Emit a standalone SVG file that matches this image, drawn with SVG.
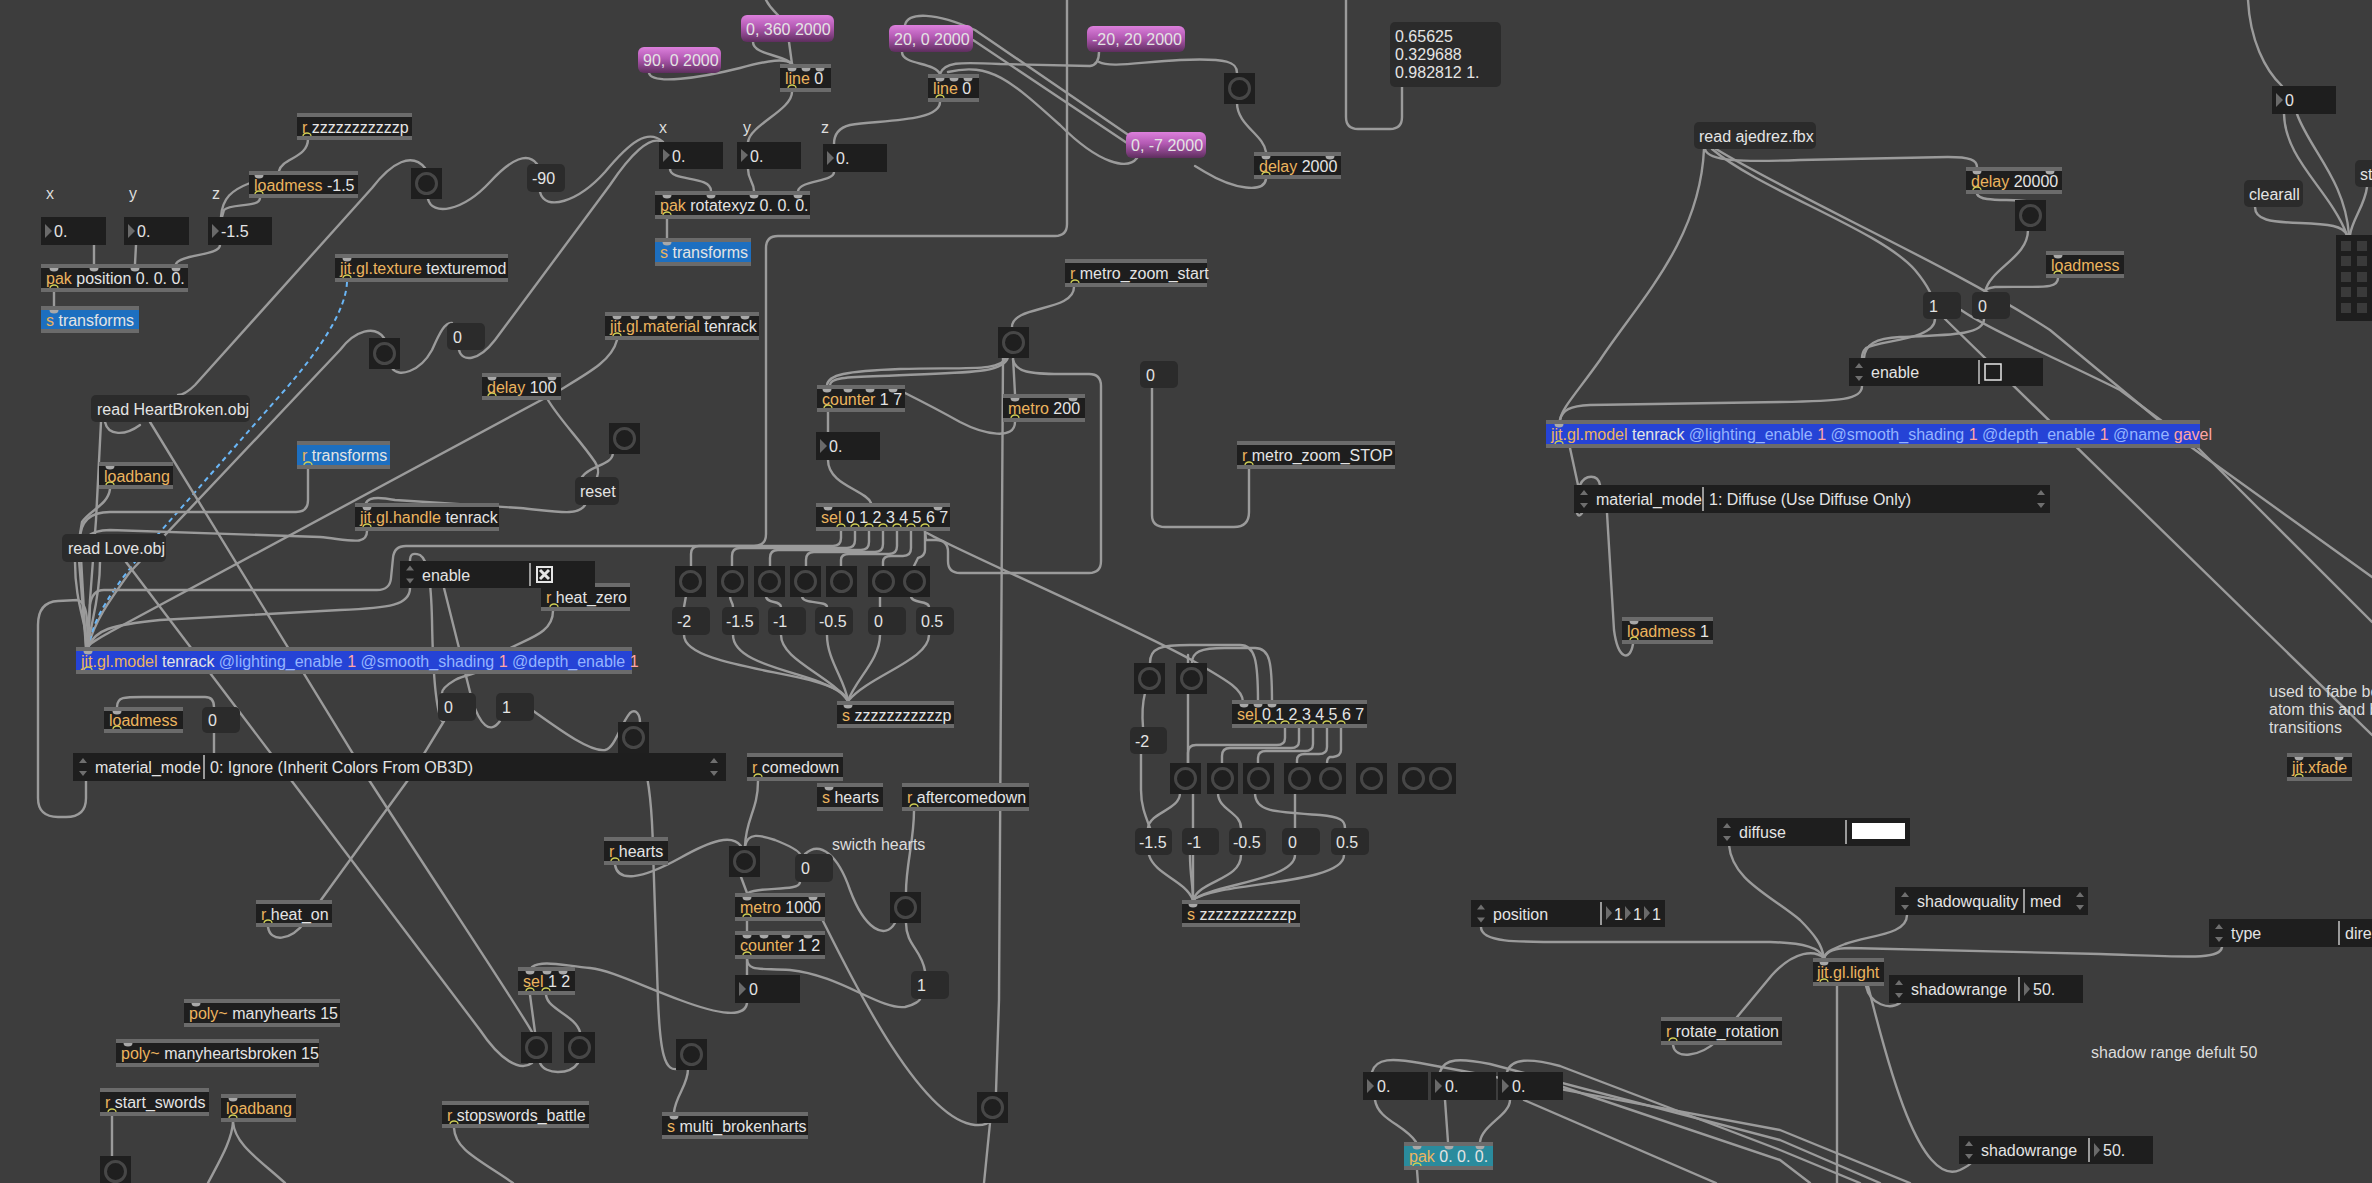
<svg xmlns="http://www.w3.org/2000/svg" width="2372" height="1183" viewBox="0 0 2372 1183">
<defs>
<style>
text{font-family:"Liberation Sans",Arial,sans-serif;font-size:16px;fill:#e4e4e4}
.k{fill:#ecb45e}
.at{fill:#95b4ff}
.av{fill:#ffa5a5}
.ob{fill:#6b6b6b}
.oi{fill:#1e1e1e}
.blu{fill:#1d6fc0}
.mdl{fill:#2543d6}
.tea{fill:#2a8b9d}
.msg{fill:#2b2b2b}
.pm{fill:url(#pg)}
.nb{fill:#1e1e1e}
.tri{fill:#6a6a6a}
.bgr{fill:#1f1f1f}
.bc{fill:none;stroke:#474747;stroke-width:3}
.au{fill:#1e1e1e}
.dv{stroke:#c4c4c4;stroke-width:1.5}
.ar{fill:#6f6f6f}
.pi{fill:#a9a9a9}
.po{fill:none;stroke:#cfcf55;stroke-width:1.3}
.w{fill:none;stroke:#9b9b9b;stroke-width:2.4;stroke-linecap:round;stroke-linejoin:round}
.wd{fill:none;stroke:#6ab6f6;stroke-width:2;stroke-dasharray:5 4}
.cm{fill:#dcdcdc}
</style>
<linearGradient id="pg" x1="0" y1="0" x2="0" y2="1">
<stop offset="0" stop-color="#dc80dc"/><stop offset="0.45" stop-color="#b259b2"/><stop offset="1" stop-color="#5e2e5e"/>
</linearGradient>
<path id="pin" d="M-4.5,0 A4.5,3.5 0 0 0 4.5,0 Z"/>
<path id="pout" d="M-4,0 A4,3 0 0 1 4,0"/>
<path id="aud" d="M0,-9 L4,-4 L-4,-4 Z M0,9 L4,4 L-4,4 Z"/>
</defs>
<rect x="0" y="0" width="2372" height="1183" fill="#3d3d3d"/>

<g id="connectors">
<path class="w" d="M308,139 C308,158 282,158 279,171"/>
<path class="w" d="M260,198 C260,208 230,203 224,210 L222,217"/>
<path class="w" d="M250,183 C232,190 222,198 221,217"/>
<path class="w" d="M94,245 L94,264"/>
<path class="w" d="M136,245 L135,264"/>
<path class="w" d="M220,245 C220,256 180,254 176,264"/>
<path class="w" d="M54,292 L54,306"/>
<path class="w" d="M425,168 C412,152 392,162 372,188 L195,385 C188,392 182,395 178,395"/>
<path class="w" d="M88,647 C95,620 110,600 130,572 L340,350 C355,330 375,325 384,338"/>
<path class="wd" d="M347,282 C346,310 320,350 283,392 L160,532 C110,590 92,620 89,647"/>
<path class="w" d="M428,199 C432,216 462,212 490,182 C512,158 528,152 537,164"/>
<path class="w" d="M540,192 C545,212 578,202 605,172 C630,142 648,128 663,142"/>
<path class="w" d="M392,368 C398,378 420,372 432,350 C440,332 445,322 452,323"/>
<path class="w" d="M459,350 C462,362 478,362 495,340 L610,185 C630,155 650,135 662,142"/>
<path class="w" d="M617,340 C612,360 590,372 560,390 L110,632 C96,640 90,643 88,647"/>
<path class="w" d="M548,400 C560,420 580,440 595,462 C600,470 598,474 597,477"/>
<path class="w" d="M613,453 C612,466 590,465 582,477"/>
<path class="w" d="M1067,0 L1067,224 Q1067,236 1055,236 L778,236 Q766,236 766,248 L766,534 Q766,546 754,546 L406,546 Q394,546 393,558 L391,578 Q390,590 377,590 L104,590 Q92,590 90,605 L88,647"/>
<path class="w" d="M410,588 C410,605 390,608 340,610 L160,620 C110,625 95,630 88,647"/>
<path class="w" d="M101,422 L96,520 L90,600 L88,647"/>
<path class="w" d="M105,422 C108,436 125,436 140,425"/>
<path class="w" d="M110,489 C108,505 90,510 82,522 L80,534"/>
<path class="w" d="M308,469 L308,500 Q308,512 296,512 L110,512 Q80,512 80,540 L86,647"/>
<path class="w" d="M367,531 C367,546 350,540 320,537 L110,530 Q78,530 79,560 L86,647"/>
<path class="w" d="M585,505 C578,516 560,512 520,508 L395,500 C375,496 368,498 366,503"/>
<path class="w" d="M75,562 C75,600 85,620 88,647"/>
<path class="w" d="M100,562 C100,600 90,625 88,647"/>
<path class="w" d="M86,781 L86,798 Q86,817 66,817 L58,817 Q38,817 38,798 L38,625 Q38,602 58,601 L78,600 Q86,603 87,620 L88,647"/>
<path class="w" d="M117,707 C117,696 125,697 150,697 L205,697 Q214,697 214,707"/>
<path class="w" d="M214,733 L214,753"/>
<path class="w" d="M442,721 C436,710 433,680 432,620 C431,580 428,560 420,555 C412,552 410,555 410,561"/>
<path class="w" d="M500,721 C490,735 480,725 472,700 L444,588"/>
<path class="w" d="M553,611 C553,640 510,640 495,660 C485,675 470,672 455,680 C445,686 442,690 442,693"/>
<path class="w" d="M268,927 C270,942 290,942 305,922 L408,780 L444,721"/>
<path class="w" d="M532,710 C560,730 590,752 605,750 C615,748 620,725 630,713 C636,708 640,715 640,722"/>
<path class="w" d="M640,752 C648,770 652,800 653,850 L658,1000 C660,1050 664,1075 680,1068"/>
<path class="w" d="M688,1069 C688,1085 676,1095 674,1112"/>
<path class="w" d="M615,865 C618,882 640,880 680,858 C712,840 732,834 741,846"/>
<path class="w" d="M758,781 C758,810 746,818 745,846"/>
<path class="w" d="M741,877 L747,893"/>
<path class="w" d="M800,882 C800,892 760,886 748,893"/>
<path class="w" d="M745,846 C748,832 760,835 775,840 C790,846 798,850 800,854"/>
<path class="w" d="M895,923 C885,940 865,930 850,890 C838,855 820,840 805,854"/>
<path class="w" d="M914,811 C914,840 906,865 906,892"/>
<path class="w" d="M906,923 C906,945 922,950 925,971"/>
<path class="w" d="M747,921 L747,931"/>
<path class="w" d="M747,959 L747,975"/>
<path class="w" d="M747,959 C748,972 760,968 790,970 C840,975 880,1010 905,1007 C915,1005 920,1000 920,999"/>
<path class="w" d="M747,1003 C745,1018 720,1015 680,1000 C640,985 610,970 590,968 C560,965 542,960 532,967"/>
<path class="w" d="M823,921 C850,975 920,1120 975,1125 C985,1126 990,1122 992,1120"/>
<path class="w" d="M1003,357 L999,1000 L996,1092"/>
<path class="w" d="M990,1123 L984,1183"/>
<path class="w" d="M530,995 L535,1032"/>
<path class="w" d="M546,995 C548,1010 575,1015 580,1032"/>
<path class="w" d="M540,1063 C545,1075 570,1075 578,1063"/>
<path class="w" d="M532,1032 C520,1010 440,890 369,780 L150,422"/>
<path class="w" d="M126,562 L291,780 L480,1030 C500,1060 520,1072 532,1063"/>
<path class="w" d="M112,1116 L112,1156"/>
<path class="w" d="M233,1122 C232,1140 220,1160 208,1183"/>
<path class="w" d="M233,1122 C235,1145 260,1160 285,1183"/>
<path class="w" d="M454,1128 C455,1150 480,1160 513,1183"/>
<path class="w" d="M753,42 C753,55 785,55 792,64"/>
<path class="w" d="M789,42 L792,64"/>
<path class="w" d="M649,73 C652,85 700,78 740,68 C770,60 785,58 792,64"/>
<path class="w" d="M766,0 C770,8 775,12 778,15"/>
<path class="w" d="M792,92 C792,110 750,125 748,142"/>
<path class="w" d="M940,102 C940,122 880,120 850,125 C838,128 834,135 834,144"/>
<path class="w" d="M670,169 C670,182 711,175 711,191"/>
<path class="w" d="M748,169 C748,180 754,182 754,191"/>
<path class="w" d="M834,172 C834,182 800,180 798,191"/>
<path class="w" d="M667,219 L667,238"/>
<path class="w" d="M902,52 C902,65 935,62 940,74"/>
<path class="w" d="M940,74 C944,62 958,62 1000,64 L1090,66 C1097,65 1099,60 1099,52"/>
<path class="w" d="M1099,62 C1110,68 1140,62 1180,60 C1228,58 1237,62 1237,73"/>
<path class="w" d="M948,72 C990,62 1010,80 1060,125 C1100,165 1128,170 1137,158"/>
<path class="w" d="M905,25 C908,12 935,12 975,30 L1127,134"/>
<path class="w" d="M973,40 L1130,145"/>
<path class="w" d="M1266,179 C1264,193 1235,190 1205,172 L1195,166"/>
<path class="w" d="M1237,103 C1237,125 1264,135 1266,152"/>
<path class="w" d="M1346,0 L1346,117 Q1346,129 1358,129 L1390,129 Q1402,129 1402,117 L1402,87"/>
<path class="w" d="M1074,287 C1074,312 1012,305 1012,327"/>
<path class="w" d="M1006,357 C1002,372 965,367 900,369 C845,371 828,375 827,385"/>
<path class="w" d="M1008,357 C1004,375 960,372 880,376 C845,377 830,378 830,385"/>
<path class="w" d="M1013,357 L1015,394"/>
<path class="w" d="M1013,360 C1016,372 1030,374 1060,374 L1089,374 Q1101,374 1101,386 L1101,561 Q1101,573 1089,573 L960,573 Q948,573 948,561 L948,552 Q948,540 936,540 L926,540 L925,531"/>
<path class="w" d="M1015,422 C1015,440 985,435 960,422 C935,408 915,398 905,393"/>
<path class="w" d="M828,412 L828,432"/>
<path class="w" d="M828,460 C828,485 866,490 871,503"/>
<path class="w" d="M841,531 L841,538 Q841,546 833,546 L699,546 Q691,546 691,554 L691,566"/>
<path class="w" d="M855,531 L855,540 Q855,548 847,548 L740,548 Q732,548 732,556 L732,566"/>
<path class="w" d="M869,531 L869,542 Q869,550 861,550 L778,550 Q770,550 770,558 L770,566"/>
<path class="w" d="M883,531 L883,544 Q883,552 875,552 L814,552 Q806,552 806,560 L806,566"/>
<path class="w" d="M897,531 L897,546 Q897,554 889,554 L849,554 Q841,554 841,560 L841,566"/>
<path class="w" d="M911,531 L911,548 Q911,556 903,556 L891,556 Q883,556 883,562 L883,566"/>
<path class="w" d="M925,531 L925,550 Q925,556 918,558 L914,566"/>
<path class="w" d="M686,596 L684,607"/>
<path class="w" d="M730,596 C730,602 733,602 733,607"/>
<path class="w" d="M766,596 C766,604 781,600 781,607"/>
<path class="w" d="M802,596 C802,605 827,600 827,607"/>
<path class="w" d="M880,596 L880,607"/>
<path class="w" d="M911,596 C911,604 929,600 929,607"/>
<path class="w" d="M684,635 C684,660 760,668 810,680 C835,687 845,692 848,701"/>
<path class="w" d="M733,635 C733,662 790,670 820,682 C838,690 846,695 848,701"/>
<path class="w" d="M781,635 C781,660 830,675 848,701"/>
<path class="w" d="M827,635 C827,660 845,680 848,701"/>
<path class="w" d="M880,635 C880,660 855,680 848,701"/>
<path class="w" d="M929,635 C929,660 870,675 848,701"/>
<path class="w" d="M927,533 C960,552 1140,630 1195,662 C1230,682 1243,690 1243,702"/>
<path class="w" d="M1249,469 L1249,512 Q1249,527 1234,527 L1165,527 Q1152,527 1152,515 L1152,388"/>
<path class="w" d="M1150,663 C1150,648 1160,645 1190,645 L1240,645 C1255,645 1258,660 1258,702"/>
<path class="w" d="M1192,663 C1192,652 1200,648 1225,648 L1255,648 C1270,648 1272,662 1272,702"/>
<path class="w" d="M1188,763 L1188,655"/>
<path class="w" d="M1145,693 C1142,705 1142,715 1143,727"/>
<path class="w" d="M1141,754 L1141,790 C1141,805 1145,815 1150,828"/>
<path class="w" d="M1285,728 L1285,738 Q1285,745 1277,745 L1196,745 Q1188,745 1188,753 L1188,763"/>
<path class="w" d="M1299,728 L1299,741 Q1299,748 1291,748 L1230,748 Q1222,748 1222,756 L1222,763"/>
<path class="w" d="M1313,728 L1313,744 Q1313,751 1305,751 L1266,751 Q1258,751 1258,758 L1258,763"/>
<path class="w" d="M1327,728 L1327,747 Q1327,754 1319,754 L1305,754 Q1297,754 1297,760 L1297,763"/>
<path class="w" d="M1341,728 L1341,750 Q1341,756 1333,757 L1330,757 Q1327,758 1327,763"/>
<path class="w" d="M1180,793 C1180,810 1150,812 1148,828"/>
<path class="w" d="M1193,793 L1193,900"/>
<path class="w" d="M1218,793 C1218,810 1241,812 1241,828"/>
<path class="w" d="M1255,793 C1255,812 1275,812 1320,815 C1340,817 1345,820 1345,828"/>
<path class="w" d="M1295,793 L1295,828"/>
<path class="w" d="M1149,855 C1155,875 1185,880 1193,900"/>
<path class="w" d="M1190,855 C1190,875 1193,885 1193,900"/>
<path class="w" d="M1241,855 C1241,880 1200,880 1193,900"/>
<path class="w" d="M1295,855 C1295,880 1210,885 1193,900"/>
<path class="w" d="M1344,855 C1344,885 1215,882 1193,900"/>
<path class="w" d="M1704,149 C1700,240 1640,300 1600,360 C1575,395 1562,408 1560,420"/>
<path class="w" d="M1705,149 C1708,162 1745,162 1800,160 L1948,157 C1970,157 1977,160 1977,167"/>
<path class="w" d="M1712,149 C1760,190 1880,230 1915,270 C1925,282 1928,288 1930,292"/>
<path class="w" d="M1716,149 C1800,200 1950,265 2050,330 L2191,447 L2372,577"/>
<path class="w" d="M1961,310 C1990,330 2060,360 2120,390 L2197,447 L2372,622"/>
<path class="w" d="M1945,319 L2372,735"/>
<path class="w" d="M1935,319 C1935,340 1880,340 1866,348 C1862,352 1862,355 1862,358"/>
<path class="w" d="M1984,319 C1984,335 1950,335 1900,337 C1875,338 1865,345 1864,358"/>
<path class="w" d="M2028,230 C2028,258 1990,268 1985,292"/>
<path class="w" d="M1977,194 C1980,203 2015,198 2030,202"/>
<path class="w" d="M2058,278 C2058,290 2040,286 1995,287 C1988,288 1985,290 1985,292"/>
<path class="w" d="M1862,386 C1862,400 1840,401 1780,402 L1590,405 C1570,406 1562,410 1560,420"/>
<path class="w" d="M1570,448 L1578,485"/>
<path class="w" d="M1633,644 C1630,662 1618,660 1614,630 L1607,513"/>
<path class="w" d="M1582,513 C1576,522 1574,505 1580,485 C1585,474 1598,474 1600,485"/>
<path class="w" d="M2248,0 C2250,40 2265,70 2282,86"/>
<path class="w" d="M2284,114 C2285,160 2330,190 2347,235"/>
<path class="w" d="M2297,114 C2310,150 2345,180 2349,235"/>
<path class="w" d="M2255,207 C2255,220 2270,222 2300,223 C2330,224 2343,226 2347,235"/>
<path class="w" d="M2367,187 C2365,205 2352,220 2350,235"/>
<path class="w" d="M1481,927 C1481,944 1520,942 1600,942 L1770,942 C1805,943 1820,948 1824,958"/>
<path class="w" d="M1729,845 C1732,880 1770,895 1800,920 C1815,935 1822,945 1824,958"/>
<path class="w" d="M1907,915 C1907,935 1870,935 1845,944 C1830,950 1826,952 1824,958"/>
<path class="w" d="M2222,947 C2220,960 2190,957 2100,954 L1850,948 C1832,948 1826,952 1824,958"/>
<path class="w" d="M1673,1045 C1675,1060 1700,1057 1718,1040 L1772,975 C1795,950 1815,950 1824,958"/>
<path class="w" d="M1866,986 C1870,1005 1890,1010 1900,1003"/>
<path class="w" d="M1868,986 C1880,1030 1915,1190 1960,1170 C1966,1167 1970,1165 1971,1163"/>
<path class="w" d="M1837,986 L1837,1183"/>
<path class="w" d="M1372,1072 C1376,1058 1392,1058 1420,1063 L1780,1130 L1910,1183"/>
<path class="w" d="M1440,1072 C1444,1058 1460,1058 1490,1064 L1780,1140 L1880,1183"/>
<path class="w" d="M1507,1072 C1511,1058 1530,1058 1560,1066 L1780,1150 L1860,1183"/>
<path class="w" d="M1563,1087 L1780,1160 L1810,1183"/>
<path class="w" d="M1524,1100 L1716,1183"/>
<path class="w" d="M1375,1100 C1378,1120 1405,1125 1416,1142"/>
<path class="w" d="M1445,1100 L1448,1142"/>
<path class="w" d="M1510,1100 C1510,1115 1482,1125 1480,1142"/>
<path class="w" d="M1417,1170 L1418,1183"/>
</g>

<!-- object boxes -->
<g id="r-zzz-1"><rect class="ob" x="297" y="113" width="115" height="27"/><rect class="oi" x="297" y="117" width="115" height="19"/><use href="#pout" class="po" x="307" y="136"/><text x="302" y="133"><tspan class="k">r</tspan> zzzzzzzzzzzp</text></g>
<g id="loadmess-m15"><rect class="ob" x="249" y="171" width="109" height="27"/><rect class="oi" x="249" y="175" width="109" height="19"/><use href="#pin" class="pi" x="259" y="175"/><use href="#pout" class="po" x="259" y="194"/><text x="254" y="191"><tspan class="k">loadmess</tspan> -1.5</text></g>
<g id="pak-position"><rect class="ob" x="41" y="264" width="147" height="28"/><rect class="oi" x="41" y="268" width="147" height="20"/><use href="#pin" class="pi" x="54" y="268"/><use href="#pin" class="pi" x="94" y="268"/><use href="#pin" class="pi" x="135" y="268"/><use href="#pin" class="pi" x="176" y="268"/><use href="#pout" class="po" x="54" y="288"/><text x="46" y="284"><tspan class="k">pak</tspan> position 0. 0. 0.</text></g>
<g id="s-transforms-1"><rect class="ob" x="41" y="306" width="98" height="27"/><rect class="blu" x="41" y="310" width="98" height="19"/><use href="#pin" class="pi" x="54" y="310"/><text x="46" y="326"><tspan class="k">s</tspan> transforms</text></g>
<g id="jit-gl-texture"><rect class="ob" x="335" y="254" width="173" height="28"/><rect class="oi" x="335" y="258" width="173" height="20"/><use href="#pin" class="pi" x="347" y="258"/><use href="#pout" class="po" x="347" y="278"/><text x="340" y="274"><tspan class="k">jit.gl.texture</tspan> texturemod</text></g>
<g id="delay-100"><rect class="ob" x="482" y="373" width="79" height="27"/><rect class="oi" x="482" y="377" width="79" height="19"/><use href="#pin" class="pi" x="492" y="377"/><use href="#pin" class="pi" x="552" y="377"/><use href="#pout" class="po" x="492" y="396"/><text x="487" y="393"><tspan class="k">delay</tspan> 100</text></g>
<g id="line-0-a"><rect class="ob" x="780" y="64" width="51" height="28"/><rect class="oi" x="780" y="68" width="51" height="20"/><use href="#pin" class="pi" x="792" y="68"/><use href="#pin" class="pi" x="806" y="68"/><use href="#pin" class="pi" x="820" y="68"/><use href="#pout" class="po" x="792" y="88"/><text x="785" y="84"><tspan class="k">line</tspan> 0</text></g>
<g id="line-0-b"><rect class="ob" x="928" y="74" width="51" height="28"/><rect class="oi" x="928" y="78" width="51" height="20"/><use href="#pin" class="pi" x="940" y="78"/><use href="#pin" class="pi" x="954" y="78"/><use href="#pin" class="pi" x="968" y="78"/><use href="#pout" class="po" x="940" y="98"/><text x="933" y="94"><tspan class="k">line</tspan> 0</text></g>
<g id="pak-rotatexyz"><rect class="ob" x="655" y="191" width="155" height="28"/><rect class="oi" x="655" y="195" width="155" height="20"/><use href="#pin" class="pi" x="667" y="195"/><use href="#pin" class="pi" x="711" y="195"/><use href="#pin" class="pi" x="754" y="195"/><use href="#pin" class="pi" x="798" y="195"/><use href="#pout" class="po" x="667" y="215"/><text x="660" y="211"><tspan class="k">pak</tspan> rotatexyz 0. 0. 0.</text></g>
<g id="s-transforms-2"><rect class="ob" x="655" y="238" width="96" height="28"/><rect class="blu" x="655" y="242" width="96" height="20"/><use href="#pin" class="pi" x="667" y="242"/><text x="660" y="258"><tspan class="k">s</tspan> transforms</text></g>
<g id="jit-gl-material"><rect class="ob" x="605" y="312" width="154" height="28"/><rect class="oi" x="605" y="316" width="154" height="20"/><use href="#pin" class="pi" x="617" y="316"/><use href="#pin" class="pi" x="635" y="316"/><use href="#pin" class="pi" x="653" y="316"/><use href="#pin" class="pi" x="671" y="316"/><use href="#pin" class="pi" x="689" y="316"/><use href="#pin" class="pi" x="707" y="316"/><use href="#pin" class="pi" x="725" y="316"/><use href="#pin" class="pi" x="745" y="316"/><use href="#pout" class="po" x="617" y="336"/><text x="610" y="332"><tspan class="k">jit.gl.material</tspan> tenrack</text></g>
<g id="r-metro-zoom-start"><rect class="ob" x="1065" y="259" width="142" height="28"/><rect class="oi" x="1065" y="263" width="142" height="20"/><use href="#pout" class="po" x="1075" y="283"/><text x="1070" y="279"><tspan class="k">r</tspan> metro_zoom_start</text></g>
<g id="counter-1-7"><rect class="ob" x="817" y="385" width="88" height="27"/><rect class="oi" x="817" y="389" width="88" height="19"/><use href="#pin" class="pi" x="827" y="389"/><use href="#pin" class="pi" x="848" y="389"/><use href="#pin" class="pi" x="870" y="389"/><use href="#pin" class="pi" x="893" y="389"/><use href="#pout" class="po" x="828" y="408"/><text x="822" y="405"><tspan class="k">counter</tspan> 1 7</text></g>
<g id="metro-200"><rect class="ob" x="1003" y="394" width="82" height="28"/><rect class="oi" x="1003" y="398" width="82" height="20"/><use href="#pin" class="pi" x="1015" y="398"/><use href="#pin" class="pi" x="1073" y="398"/><use href="#pout" class="po" x="1015" y="418"/><text x="1008" y="414"><tspan class="k">metro</tspan> 200</text></g>
<g id="sel-1"><rect class="ob" x="816" y="503" width="134" height="28"/><rect class="oi" x="816" y="507" width="134" height="20"/><use href="#pin" class="pi" x="828" y="507"/><use href="#pin" class="pi" x="938" y="507"/><use href="#pout" class="po" x="841" y="527"/><use href="#pout" class="po" x="855" y="527"/><use href="#pout" class="po" x="869" y="527"/><use href="#pout" class="po" x="883" y="527"/><use href="#pout" class="po" x="897" y="527"/><use href="#pout" class="po" x="911" y="527"/><use href="#pout" class="po" x="925" y="527"/><text x="821" y="523"><tspan class="k">sel</tspan> 0 1 2 3 4 5 6 7</text></g>
<g id="s-zzz-1"><rect class="ob" x="837" y="701" width="117" height="27"/><rect class="oi" x="837" y="705" width="117" height="19"/><use href="#pin" class="pi" x="848" y="705"/><text x="842" y="721"><tspan class="k">s</tspan> zzzzzzzzzzzp</text></g>
<g id="r-comedown"><rect class="ob" x="747" y="753" width="96" height="28"/><rect class="oi" x="747" y="757" width="96" height="20"/><use href="#pout" class="po" x="758" y="777"/><text x="752" y="773"><tspan class="k">r</tspan> comedown</text></g>
<g id="s-hearts"><rect class="ob" x="817" y="783" width="66" height="28"/><rect class="oi" x="817" y="787" width="66" height="20"/><use href="#pin" class="pi" x="829" y="787"/><text x="822" y="803"><tspan class="k">s</tspan> hearts</text></g>
<g id="r-aftercomedown"><rect class="ob" x="902" y="783" width="127" height="28"/><rect class="oi" x="902" y="787" width="127" height="20"/><use href="#pout" class="po" x="914" y="807"/><text x="907" y="803"><tspan class="k">r</tspan> aftercomedown</text></g>
<g id="delay-2000"><rect class="ob" x="1254" y="152" width="87" height="27"/><rect class="oi" x="1254" y="156" width="87" height="19"/><use href="#pin" class="pi" x="1266" y="156"/><use href="#pin" class="pi" x="1330" y="156"/><use href="#pout" class="po" x="1266" y="175"/><text x="1259" y="172"><tspan class="k">delay</tspan> 2000</text></g>
<g id="r-metro-zoom-stop"><rect class="ob" x="1237" y="441" width="158" height="28"/><rect class="oi" x="1237" y="445" width="158" height="20"/><use href="#pout" class="po" x="1249" y="465"/><text x="1242" y="461"><tspan class="k">r</tspan> metro_zoom_STOP</text></g>
<g id="sel-2"><rect class="ob" x="1232" y="700" width="135" height="28"/><rect class="oi" x="1232" y="704" width="135" height="20"/><use href="#pin" class="pi" x="1244" y="704"/><use href="#pin" class="pi" x="1258" y="704"/><use href="#pin" class="pi" x="1272" y="704"/><use href="#pout" class="po" x="1258" y="724"/><use href="#pout" class="po" x="1272" y="724"/><use href="#pout" class="po" x="1285" y="724"/><use href="#pout" class="po" x="1299" y="724"/><use href="#pout" class="po" x="1313" y="724"/><use href="#pout" class="po" x="1327" y="724"/><use href="#pout" class="po" x="1341" y="724"/><text x="1237" y="720"><tspan class="k">sel</tspan> 0 1 2 3 4 5 6 7</text></g>
<g id="s-zzz-2"><rect class="ob" x="1182" y="900" width="118" height="27"/><rect class="oi" x="1182" y="904" width="118" height="19"/><use href="#pin" class="pi" x="1193" y="904"/><text x="1187" y="920"><tspan class="k">s</tspan> zzzzzzzzzzzp</text></g>
<g id="jit-gl-model-gavel"><rect class="ob" x="1546" y="420" width="654" height="28"/><rect class="mdl" x="1546" y="424" width="654" height="20"/><use href="#pin" class="pi" x="1559" y="424"/><use href="#pout" class="po" x="1559" y="444"/><text x="1551" y="440"><tspan class="k">jit.gl.model</tspan> tenrack <tspan class="at">@lighting_enable</tspan> <tspan class="av">1</tspan> <tspan class="at">@smooth_shading</tspan> <tspan class="av">1</tspan> <tspan class="at">@depth_enable</tspan> <tspan class="av">1</tspan> <tspan class="at">@name</tspan> <tspan class="av">gavel</tspan></text></g>
<g id="loadmess-1"><rect class="ob" x="1622" y="617" width="91" height="27"/><rect class="oi" x="1622" y="621" width="91" height="19"/><use href="#pin" class="pi" x="1634" y="621"/><use href="#pout" class="po" x="1634" y="640"/><text x="1627" y="637"><tspan class="k">loadmess</tspan> 1</text></g>
<g id="delay-20000"><rect class="ob" x="1966" y="167" width="96" height="27"/><rect class="oi" x="1966" y="171" width="96" height="19"/><use href="#pin" class="pi" x="1977" y="171"/><use href="#pin" class="pi" x="2050" y="171"/><use href="#pout" class="po" x="1977" y="190"/><text x="1971" y="187"><tspan class="k">delay</tspan> 20000</text></g>
<g id="loadmess-r"><rect class="ob" x="2046" y="251" width="78" height="27"/><rect class="oi" x="2046" y="255" width="78" height="19"/><use href="#pin" class="pi" x="2058" y="255"/><use href="#pout" class="po" x="2058" y="274"/><text x="2051" y="271" class="k">loadmess</text></g>
<g id="jit-xfade"><rect class="ob" x="2287" y="753" width="65" height="28"/><rect class="oi" x="2287" y="757" width="65" height="20"/><use href="#pin" class="pi" x="2299" y="757"/><use href="#pin" class="pi" x="2339" y="757"/><use href="#pout" class="po" x="2299" y="777"/><text x="2292" y="773" class="k">jit.xfade</text></g>
<g id="jit-gl-light"><rect class="ob" x="1813" y="958" width="71" height="28"/><rect class="oi" x="1813" y="962" width="71" height="20"/><use href="#pin" class="pi" x="1824" y="962"/><use href="#pout" class="po" x="1824" y="982"/><text x="1817" y="978" class="k">jit.gl.light</text></g>
<g id="r-rotate-rotation"><rect class="ob" x="1661" y="1017" width="121" height="28"/><rect class="oi" x="1661" y="1021" width="121" height="20"/><use href="#pout" class="po" x="1673" y="1041"/><text x="1666" y="1037"><tspan class="k">r</tspan> rotate_rotation</text></g>
<g id="pak-000"><rect class="ob" x="1404" y="1142" width="89" height="28"/><rect class="tea" x="1404" y="1146" width="89" height="20"/><use href="#pin" class="pi" x="1417" y="1146"/><use href="#pin" class="pi" x="1449" y="1146"/><use href="#pin" class="pi" x="1480" y="1146"/><use href="#pout" class="po" x="1417" y="1166"/><text x="1409" y="1162"><tspan class="k">pak</tspan> 0. 0. 0.</text></g>
<g id="r-transforms"><rect class="ob" x="297" y="441" width="93" height="28"/><rect class="blu" x="297" y="445" width="93" height="20"/><use href="#pout" class="po" x="308" y="465"/><text x="302" y="461"><tspan class="k">r</tspan> transforms</text></g>
<g id="loadbang-1"><rect class="ob" x="99" y="462" width="74" height="27"/><rect class="oi" x="99" y="466" width="74" height="19"/><use href="#pin" class="pi" x="110" y="466"/><use href="#pout" class="po" x="110" y="485"/><text x="104" y="482" class="k">loadbang</text></g>
<g id="jit-gl-handle"><rect class="ob" x="355" y="503" width="144" height="28"/><rect class="oi" x="355" y="507" width="144" height="20"/><use href="#pin" class="pi" x="367" y="507"/><use href="#pout" class="po" x="367" y="527"/><text x="360" y="523"><tspan class="k">jit.gl.handle</tspan> tenrack</text></g>
<g id="r-heat-zero"><rect class="ob" x="541" y="583" width="89" height="28"/><rect class="oi" x="541" y="587" width="89" height="20"/><use href="#pout" class="po" x="554" y="607"/><text x="546" y="603"><tspan class="k">r</tspan> heat_zero</text></g>
<g id="jit-gl-model-tenrack"><rect class="ob" x="76" y="647" width="556" height="27"/><rect class="mdl" x="76" y="651" width="556" height="19"/><use href="#pin" class="pi" x="88" y="651"/><use href="#pout" class="po" x="88" y="670"/><text x="81" y="667"><tspan class="k">jit.gl.model</tspan> tenrack <tspan class="at">@lighting_enable</tspan> <tspan class="av">1</tspan> <tspan class="at">@smooth_shading</tspan> <tspan class="av">1</tspan> <tspan class="at">@depth_enable</tspan> <tspan class="av">1</tspan></text></g>
<g id="loadmess-l"><rect class="ob" x="104" y="707" width="79" height="26"/><rect class="oi" x="104" y="711" width="79" height="18"/><use href="#pin" class="pi" x="117" y="711"/><use href="#pout" class="po" x="117" y="729"/><text x="109" y="726" class="k">loadmess</text></g>
<g id="r-heat-on"><rect class="ob" x="256" y="900" width="76" height="27"/><rect class="oi" x="256" y="904" width="76" height="19"/><use href="#pout" class="po" x="268" y="923"/><text x="261" y="920"><tspan class="k">r</tspan> heat_on</text></g>
<g id="sel-1-2"><rect class="ob" x="518" y="967" width="57" height="28"/><rect class="oi" x="518" y="971" width="57" height="20"/><use href="#pin" class="pi" x="530" y="971"/><use href="#pin" class="pi" x="547" y="971"/><use href="#pin" class="pi" x="563" y="971"/><use href="#pout" class="po" x="530" y="991"/><use href="#pout" class="po" x="546" y="991"/><text x="523" y="987"><tspan class="k">sel</tspan> 1 2</text></g>
<g id="poly-manyhearts"><rect class="ob" x="184" y="999" width="156" height="28"/><rect class="oi" x="184" y="1003" width="156" height="20"/><use href="#pin" class="pi" x="196" y="1003"/><text x="189" y="1019"><tspan class="k">poly~</tspan> manyhearts 15</text></g>
<g id="poly-manyheartsbroken"><rect class="ob" x="116" y="1039" width="203" height="28"/><rect class="oi" x="116" y="1043" width="203" height="20"/><use href="#pin" class="pi" x="128" y="1043"/><text x="121" y="1059"><tspan class="k">poly~</tspan> manyheartsbroken 15</text></g>
<g id="r-start-swords"><rect class="ob" x="100" y="1088" width="109" height="28"/><rect class="oi" x="100" y="1092" width="109" height="20"/><use href="#pout" class="po" x="112" y="1112"/><text x="105" y="1108"><tspan class="k">r</tspan> start_swords</text></g>
<g id="loadbang-2"><rect class="ob" x="221" y="1094" width="75" height="28"/><rect class="oi" x="221" y="1098" width="75" height="20"/><use href="#pin" class="pi" x="233" y="1098"/><use href="#pout" class="po" x="233" y="1118"/><text x="226" y="1114" class="k">loadbang</text></g>
<g id="r-stopswords-battle"><rect class="ob" x="442" y="1101" width="147" height="27"/><rect class="oi" x="442" y="1105" width="147" height="19"/><use href="#pout" class="po" x="454" y="1124"/><text x="447" y="1121"><tspan class="k">r</tspan> stopswords_battle</text></g>
<g id="r-hearts"><rect class="ob" x="604" y="837" width="64" height="28"/><rect class="oi" x="604" y="841" width="64" height="20"/><use href="#pout" class="po" x="615" y="861"/><text x="609" y="857"><tspan class="k">r</tspan> hearts</text></g>
<g id="metro-1000"><rect class="ob" x="735" y="893" width="90" height="28"/><rect class="oi" x="735" y="897" width="90" height="20"/><use href="#pin" class="pi" x="747" y="897"/><use href="#pin" class="pi" x="813" y="897"/><use href="#pout" class="po" x="747" y="917"/><text x="740" y="913"><tspan class="k">metro</tspan> 1000</text></g>
<g id="counter-1-2"><rect class="ob" x="735" y="931" width="90" height="28"/><rect class="oi" x="735" y="935" width="90" height="20"/><use href="#pin" class="pi" x="747" y="935"/><use href="#pin" class="pi" x="764" y="935"/><use href="#pin" class="pi" x="786" y="935"/><use href="#pin" class="pi" x="808" y="935"/><use href="#pout" class="po" x="747" y="955"/><text x="740" y="951"><tspan class="k">counter</tspan> 1 2</text></g>
<g id="s-multi-brokenharts"><rect class="ob" x="662" y="1112" width="146" height="27"/><rect class="oi" x="662" y="1116" width="146" height="19"/><use href="#pin" class="pi" x="674" y="1116"/><text x="667" y="1132"><tspan class="k">s</tspan> multi_brokenharts</text></g>

<!-- message boxes -->
<g id="msg-m90"><rect class="msg" x="527" y="164" width="38" height="28" rx="5"/><text x="532" y="184">-90</text></g>
<g id="msg-0-a"><rect class="msg" x="447" y="323" width="38" height="27" rx="5"/><text x="453" y="343">0</text></g>
<g id="msg-read-heartbroken"><rect class="msg" x="91" y="395" width="159" height="27" rx="5"/><text x="97" y="415">read HeartBroken.obj</text></g>
<g id="msg-read-love"><rect class="msg" x="62" y="534" width="104" height="28" rx="5"/><text x="68" y="554">read Love.obj</text></g>
<g id="msg-reset"><rect class="msg" x="575" y="477" width="44" height="28" rx="5"/><text x="580" y="497">reset</text></g>
<g id="msg-0-b"><rect class="msg" x="202" y="707" width="38" height="26" rx="5"/><text x="208" y="726">0</text></g>
<g id="msg-0-c"><rect class="msg" x="438" y="693" width="38" height="28" rx="5"/><text x="444" y="713">0</text></g>
<g id="msg-1-a"><rect class="msg" x="496" y="693" width="38" height="28" rx="5"/><text x="502" y="713">1</text></g>
<g id="msg-m2-a"><rect class="msg" x="672" y="607" width="38" height="28" rx="5"/><text x="677" y="627">-2</text></g>
<g id="msg-m15-a"><rect class="msg" x="722" y="607" width="37" height="28" rx="5"/><text x="726" y="627">-1.5</text></g>
<g id="msg-m1-a"><rect class="msg" x="768" y="607" width="38" height="28" rx="5"/><text x="773" y="627">-1</text></g>
<g id="msg-m05-a"><rect class="msg" x="815" y="607" width="38" height="28" rx="5"/><text x="819" y="627">-0.5</text></g>
<g id="msg-0-d"><rect class="msg" x="868" y="607" width="38" height="28" rx="5"/><text x="874" y="627">0</text></g>
<g id="msg-05-a"><rect class="msg" x="916" y="607" width="38" height="28" rx="5"/><text x="921" y="627">0.5</text></g>
<g id="msg-0-e"><rect class="msg" x="1140" y="361" width="38" height="27" rx="5"/><text x="1146" y="381">0</text></g>
<g id="msg-color"><rect class="msg" x="1390" y="22" width="111" height="65" rx="5"/><text x="1395" y="42">0.65625</text><text x="1395" y="60">0.329688</text><text x="1395" y="78">0.982812 1.</text></g>
<g id="msg-read-ajedrez"><rect class="msg" x="1694" y="122" width="122" height="27" rx="5"/><text x="1699" y="142">read ajedrez.fbx</text></g>
<g id="msg-1-b"><rect class="msg" x="1923" y="292" width="38" height="27" rx="5"/><text x="1929" y="312">1</text></g>
<g id="msg-0-f"><rect class="msg" x="1972" y="292" width="38" height="27" rx="5"/><text x="1978" y="312">0</text></g>
<g id="msg-clearall"><rect class="msg" x="2244" y="180" width="59" height="27" rx="5"/><text x="2249" y="200">clearall</text></g>
<g id="msg-st"><rect class="msg" x="2355" y="160" width="30" height="27" rx="5"/><text x="2360" y="180">st</text></g>
<g id="msg-0-g"><rect class="msg" x="795" y="854" width="38" height="28" rx="5"/><text x="801" y="874">0</text></g>
<g id="msg-1-c"><rect class="msg" x="911" y="971" width="38" height="28" rx="5"/><text x="917" y="991">1</text></g>
<g id="msg-m2-b"><rect class="msg" x="1130" y="727" width="37" height="27" rx="5"/><text x="1135" y="747">-2</text></g>
<g id="msg-m15-b"><rect class="msg" x="1135" y="828" width="37" height="27" rx="5"/><text x="1139" y="848">-1.5</text></g>
<g id="msg-m1-b"><rect class="msg" x="1182" y="828" width="37" height="27" rx="5"/><text x="1187" y="848">-1</text></g>
<g id="msg-m05-b"><rect class="msg" x="1229" y="828" width="37" height="27" rx="5"/><text x="1233" y="848">-0.5</text></g>
<g id="msg-0-h"><rect class="msg" x="1282" y="828" width="38" height="27" rx="5"/><text x="1288" y="848">0</text></g>
<g id="msg-05-b"><rect class="msg" x="1331" y="828" width="38" height="27" rx="5"/><text x="1336" y="848">0.5</text></g>

<!-- purple messages -->
<g id="msg-0-360"><rect class="pm" x="741" y="15" width="93" height="27" rx="6"/><text x="746" y="35">0, 360 2000</text></g>
<g id="msg-90-0"><rect class="pm" x="638" y="47" width="83" height="26" rx="6"/><text x="643" y="66">90, 0 2000</text></g>
<g id="msg-20-0"><rect class="pm" x="889" y="25" width="84" height="27" rx="6"/><text x="894" y="45">20, 0 2000</text></g>
<g id="msg-m20-20"><rect class="pm" x="1087" y="26" width="98" height="26" rx="6"/><text x="1092" y="45">-20, 20 2000</text></g>
<g id="msg-0-m7"><rect class="pm" x="1126" y="132" width="80" height="26" rx="6"/><text x="1131" y="151">0, -7 2000</text></g>

<!-- number boxes -->
<g id="num-x1"><rect class="nb" x="41" y="217" width="65" height="28"/><polygon class="tri" points="45,224 45,238 52,231"/><text x="54" y="237">0.</text></g>
<g id="num-y1"><rect class="nb" x="124" y="217" width="65" height="28"/><polygon class="tri" points="128,224 128,238 135,231"/><text x="137" y="237">0.</text></g>
<g id="num-z1"><rect class="nb" x="208" y="217" width="64" height="28"/><polygon class="tri" points="212,224 212,238 219,231"/><text x="221" y="237">-1.5</text></g>
<g id="num-x2"><rect class="nb" x="659" y="142" width="64" height="27"/><polygon class="tri" points="663,149 663,162 670,155"/><text x="672" y="162">0.</text></g>
<g id="num-y2"><rect class="nb" x="737" y="142" width="64" height="27"/><polygon class="tri" points="741,149 741,162 748,155"/><text x="750" y="162">0.</text></g>
<g id="num-z2"><rect class="nb" x="823" y="144" width="64" height="28"/><polygon class="tri" points="827,151 827,165 834,158"/><text x="836" y="164">0.</text></g>
<g id="num-counter"><rect class="nb" x="816" y="432" width="64" height="28"/><polygon class="tri" points="820,439 820,453 827,446"/><text x="829" y="452">0.</text></g>
<g id="num-hearts"><rect class="nb" x="735" y="975" width="65" height="28"/><polygon class="tri" points="739,982 739,996 746,989"/><text x="749" y="995">0</text></g>
<g id="num-top-right"><rect class="nb" x="2272" y="86" width="64" height="28"/><polygon class="tri" points="2276,93 2276,107 2283,100"/><text x="2285" y="106">0</text></g>
<g id="num-px"><rect class="nb" x="1363" y="1072" width="65" height="28"/><polygon class="tri" points="1367,1079 1367,1093 1374,1086"/><text x="1377" y="1092">0.</text></g>
<g id="num-py"><rect class="nb" x="1431" y="1072" width="65" height="28"/><polygon class="tri" points="1435,1079 1435,1093 1442,1086"/><text x="1445" y="1092">0.</text></g>
<g id="num-pz"><rect class="nb" x="1498" y="1072" width="65" height="28"/><polygon class="tri" points="1502,1079 1502,1093 1509,1086"/><text x="1512" y="1092">0.</text></g>

<!-- bangs -->
<g id="bang-1"><rect class="bgr" x="411" y="168" width="31" height="31"/><circle class="bc" cx="426.5" cy="183.5" r="10"/></g>
<g id="bang-2"><rect class="bgr" x="369" y="338" width="31" height="31"/><circle class="bc" cx="384.5" cy="353.5" r="10"/></g>
<g id="bang-3"><rect class="bgr" x="609" y="423" width="31" height="31"/><circle class="bc" cx="624.5" cy="438.5" r="10"/></g>
<g id="bang-4"><rect class="bgr" x="998" y="327" width="31" height="31"/><circle class="bc" cx="1013.5" cy="342.5" r="10"/></g>
<g id="bang-5"><rect class="bgr" x="1224" y="73" width="31" height="31"/><circle class="bc" cx="1239.5" cy="88.5" r="10"/></g>
<g id="bang-6"><rect class="bgr" x="2015" y="200" width="31" height="31"/><circle class="bc" cx="2030.5" cy="215.5" r="10"/></g>
<g id="bang-7"><rect class="bgr" x="618" y="722" width="31" height="31"/><circle class="bc" cx="633.5" cy="737.5" r="10"/></g>
<g id="bang-8"><rect class="bgr" x="729" y="846" width="31" height="31"/><circle class="bc" cx="744.5" cy="861.5" r="10"/></g>
<g id="bang-9"><rect class="bgr" x="890" y="892" width="31" height="31"/><circle class="bc" cx="905.5" cy="907.5" r="10"/></g>
<g id="bang-10"><rect class="bgr" x="676" y="1039" width="31" height="31"/><circle class="bc" cx="691.5" cy="1054.5" r="10"/></g>
<g id="bang-11"><rect class="bgr" x="977" y="1092" width="31" height="31"/><circle class="bc" cx="992.5" cy="1107.5" r="10"/></g>
<g id="bang-12"><rect class="bgr" x="521" y="1032" width="31" height="31"/><circle class="bc" cx="536.5" cy="1047.5" r="10"/></g>
<g id="bang-13"><rect class="bgr" x="564" y="1032" width="31" height="31"/><circle class="bc" cx="579.5" cy="1047.5" r="10"/></g>
<g id="bang-14"><rect class="bgr" x="100" y="1156" width="31" height="31"/><circle class="bc" cx="115.5" cy="1171.5" r="10"/></g>
<g id="bang-r1-1"><rect class="bgr" x="675" y="566" width="31" height="31"/><circle class="bc" cx="690.5" cy="581.5" r="10"/></g>
<g id="bang-r1-2"><rect class="bgr" x="717" y="566" width="31" height="31"/><circle class="bc" cx="732.5" cy="581.5" r="10"/></g>
<g id="bang-r1-3"><rect class="bgr" x="754" y="566" width="31" height="31"/><circle class="bc" cx="769.5" cy="581.5" r="10"/></g>
<g id="bang-r1-4"><rect class="bgr" x="790" y="566" width="31" height="31"/><circle class="bc" cx="805.5" cy="581.5" r="10"/></g>
<g id="bang-r1-5"><rect class="bgr" x="826" y="566" width="31" height="31"/><circle class="bc" cx="841.5" cy="581.5" r="10"/></g>
<g id="bang-r1-6"><rect class="bgr" x="868" y="566" width="31" height="31"/><circle class="bc" cx="883.5" cy="581.5" r="10"/></g>
<g id="bang-r1-7"><rect class="bgr" x="899" y="566" width="31" height="31"/><circle class="bc" cx="914.5" cy="581.5" r="10"/></g>
<g id="bang-s2-a"><rect class="bgr" x="1134" y="663" width="31" height="31"/><circle class="bc" cx="1149.5" cy="678.5" r="10"/></g>
<g id="bang-s2-b"><rect class="bgr" x="1176" y="663" width="31" height="31"/><circle class="bc" cx="1191.5" cy="678.5" r="10"/></g>
<g id="bang-r2-1"><rect class="bgr" x="1170" y="763" width="31" height="31"/><circle class="bc" cx="1185.5" cy="778.5" r="10"/></g>
<g id="bang-r2-2"><rect class="bgr" x="1207" y="763" width="31" height="31"/><circle class="bc" cx="1222.5" cy="778.5" r="10"/></g>
<g id="bang-r2-3"><rect class="bgr" x="1243" y="763" width="31" height="31"/><circle class="bc" cx="1258.5" cy="778.5" r="10"/></g>
<g id="bang-r2-4"><rect class="bgr" x="1284" y="763" width="31" height="31"/><circle class="bc" cx="1299.5" cy="778.5" r="10"/></g>
<g id="bang-r2-5"><rect class="bgr" x="1315" y="763" width="31" height="31"/><circle class="bc" cx="1330.5" cy="778.5" r="10"/></g>
<g id="bang-r2-6"><rect class="bgr" x="1356" y="763" width="31" height="31"/><circle class="bc" cx="1371.5" cy="778.5" r="10"/></g>
<g id="bang-r2-7"><rect class="bgr" x="1398" y="763" width="31" height="31"/><circle class="bc" cx="1413.5" cy="778.5" r="10"/></g>
<g id="bang-r2-8"><rect class="bgr" x="1425" y="763" width="31" height="31"/><circle class="bc" cx="1440.5" cy="778.5" r="10"/></g>

<!-- attrui -->
<g id="attr-enable-l"><rect class="au" x="400" y="561" width="195" height="27"/><use href="#aud" class="ar" x="410" y="574.5"/><text x="422" y="581">enable</text><line class="dv" x1="530" y1="563" x2="530" y2="586"/><rect x="537" y="567" width="15" height="15" fill="none" stroke="#e6e6e6" stroke-width="2"/><path d="M540,570 L549,579 M549,570 L540,579" stroke="#e6e6e6" stroke-width="3"/></g>
<g id="attr-material-l"><rect class="au" x="73" y="753" width="653" height="28"/><use href="#aud" class="ar" x="83" y="767"/><text x="95" y="773">material_mode</text><line class="dv" x1="204" y1="755" x2="204" y2="779"/><text x="210" y="773">0: Ignore (Inherit Colors From OB3D)</text><use href="#aud" class="ar" x="714" y="767"/></g>
<g id="attr-enable-r"><rect class="au" x="1849" y="358" width="194" height="28"/><use href="#aud" class="ar" x="1859" y="372"/><text x="1871" y="378">enable</text><line class="dv" x1="1979" y1="360" x2="1979" y2="384"/><rect x="1985" y="364" width="16" height="16" fill="none" stroke="#e6e6e6" stroke-width="1.5"/></g>
<g id="attr-material-r"><rect class="au" x="1574" y="485" width="476" height="28"/><use href="#aud" class="ar" x="1584" y="499"/><text x="1596" y="505">material_mode</text><line class="dv" x1="1703" y1="487" x2="1703" y2="511"/><text x="1709" y="505">1: Diffuse (Use Diffuse Only)</text><use href="#aud" class="ar" x="2041" y="499"/></g>
<g id="attr-diffuse"><rect class="au" x="1717" y="818" width="193" height="28"/><use href="#aud" class="ar" x="1727" y="832"/><text x="1739" y="838">diffuse</text><line class="dv" x1="1846" y1="820" x2="1846" y2="844"/><rect x="1852" y="823" width="53" height="16" fill="#ffffff"/></g>
<g id="attr-position"><rect class="au" x="1471" y="900" width="194" height="27"/><use href="#aud" class="ar" x="1481" y="913.5"/><text x="1493" y="920">position</text><line class="dv" x1="1601" y1="902" x2="1601" y2="925"/><polygon class="tri" points="1606,906 1606,920 1612,913"/><text x="1614" y="920">1</text><polygon class="tri" points="1625,906 1625,920 1631,913"/><text x="1633" y="920">1</text><polygon class="tri" points="1644,906 1644,920 1650,913"/><text x="1652" y="920">1</text></g>
<g id="attr-shadowquality"><rect class="au" x="1895" y="887" width="193" height="28"/><use href="#aud" class="ar" x="1905" y="901"/><text x="1917" y="907">shadowquality</text><line class="dv" x1="2024" y1="889" x2="2024" y2="913"/><text x="2030" y="907">med</text><use href="#aud" class="ar" x="2080" y="901"/></g>
<g id="attr-type"><rect class="au" x="2209" y="919" width="170" height="28"/><use href="#aud" class="ar" x="2219" y="933"/><text x="2231" y="939">type</text><line class="dv" x1="2339" y1="921" x2="2339" y2="945"/><text x="2345" y="939">dire</text></g>
<g id="attr-shadowrange-1"><rect class="au" x="1889" y="975" width="194" height="28"/><use href="#aud" class="ar" x="1899" y="989"/><text x="1911" y="995">shadowrange</text><line class="dv" x1="2019" y1="977" x2="2019" y2="1001"/><polygon class="tri" points="2024,982 2024,996 2030,989"/><text x="2033" y="995">50.</text></g>
<g id="attr-shadowrange-2"><rect class="au" x="1959" y="1136" width="194" height="28"/><use href="#aud" class="ar" x="1969" y="1150"/><text x="1981" y="1156">shadowrange</text><line class="dv" x1="2089" y1="1138" x2="2089" y2="1162"/><polygon class="tri" points="2094,1143 2094,1157 2100,1150"/><text x="2103" y="1156">50.</text></g>

<!-- matrix control -->
<g id="matrixctrl"><rect x="2336" y="235" width="40" height="86" fill="#1e1e1e"/>
<rect x="2341" y="241" width="10" height="10" fill="#3a3a3a"/><rect x="2357" y="241" width="10" height="10" fill="#3a3a3a"/>
<rect x="2341" y="256" width="10" height="10" fill="#3a3a3a"/><rect x="2357" y="256" width="10" height="10" fill="#3a3a3a"/>
<rect x="2341" y="272" width="10" height="10" fill="#3a3a3a"/><rect x="2357" y="272" width="10" height="10" fill="#3a3a3a"/>
<rect x="2341" y="287" width="10" height="10" fill="#3a3a3a"/><rect x="2357" y="287" width="10" height="10" fill="#3a3a3a"/>
<rect x="2341" y="303" width="10" height="10" fill="#3a3a3a"/><rect x="2357" y="303" width="10" height="10" fill="#3a3a3a"/></g>

<!-- comments -->
<g id="comments">
<text class="cm" x="50" y="199" text-anchor="middle">x</text>
<text class="cm" x="133" y="199" text-anchor="middle">y</text>
<text class="cm" x="216" y="199" text-anchor="middle">z</text>
<text class="cm" x="663" y="133" text-anchor="middle">x</text>
<text class="cm" x="747" y="133" text-anchor="middle">y</text>
<text class="cm" x="825" y="133" text-anchor="middle">z</text>
<text class="cm" x="832" y="850">swicth hearts</text>
<text class="cm" x="2091" y="1058">shadow range defult 50</text>
<text class="cm" x="2269" y="697">used to fabe be</text>
<text class="cm" x="2269" y="715">atom this and b</text>
<text class="cm" x="2269" y="733">transitions</text>
</g>
</svg>
